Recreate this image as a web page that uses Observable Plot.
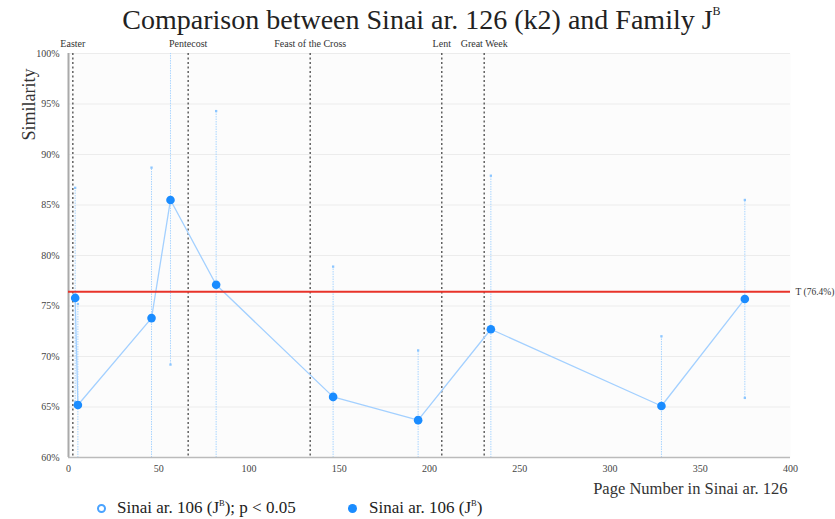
<!DOCTYPE html>
<html>
<head>
<meta charset="utf-8">
<script src="https://cdn.jsdelivr.net/npm/d3@7"></script>
<script src="https://cdn.jsdelivr.net/npm/@observablehq/plot@0.6"></script>
<style>
  html, body { margin: 0; padding: 0; background: white; }
  body { width: 835px; height: 519px; overflow: hidden; font-family: "Liberation Serif", serif; color: #222; }
  #title { height: 40px; line-height: 40px; font-size: 28px; text-align: center; white-space: nowrap; padding-left: 8px; }
  #title sup { font-size: 12px; vertical-align: 0; position: relative; top: -14px; }
  #legend { position: relative; height: 19px; font-size: 17px; }
  #legend .item { position: absolute; top: 0; line-height: 16px; white-space: nowrap; }
  #legend sup { font-size: 8.5px; vertical-align: 0; position: relative; top: -7px; }
  #legend .sym { display: inline-block; width: 9px; height: 9px; border-radius: 50%; box-sizing: border-box; position: absolute; top: 4px; }
</style>
</head>
<body>
<div id="title">Comparison between Sinai ar. 126 (k2) and Family J<sup>B</sup></div>
<div id="chart"></div>
<div id="legend">
  <div class="item" style="left:97px"><span class="sym" style="border:2px solid #4aa3ff;background:white"></span><span style="margin-left:20px">Sinai ar. 106 (J<sup>B</sup>); p &lt; 0.05</span></div>
  <div class="item" style="left:348px"><span class="sym" style="background:#1a8cff"></span><span style="margin-left:21px">Sinai ar. 106 (J<sup>B</sup>)</span></div>
</div>
<script>
// ---- data ----
const pages      = [3.7, 5.2, 46, 56.5, 81.8, 146.6, 193.7, 234, 328.5, 374.7];
const similarity = [75.8, 65.2, 73.8, 85.5, 77.1, 66.0, 63.7, 72.7, 65.1, 75.7];
const upperBound = [86.7, 75.2, 88.7, 101, 94.3, 78.9, 70.6, 87.9, 72.0, 85.5];
const lowerBound = [65.5, 55, 55, 69.2, 55, 55, 55, 55, 55, 65.9];

const eventNames = ["Easter", "Pentecost", "Feast of the Cross", "Lent", "Great Week"];
const eventPages = [2.4, 66.3, 133.9, 206.8, 230.3];

const threshold = 76.4;
const xTicks = [0, 50, 100, 150, 200, 250, 300, 350, 400];
const yTicks = [60, 65, 70, 75, 80, 85, 90, 95, 100];

const points = pages.map((p, i) => ({page: p, sim: similarity[i], hi: upperBound[i], lo: lowerBound[i]}));
const events = eventNames.map((n, i) => ({name: n, page: eventPages[i]}));

const barColor = "#a9d5ff";

const chart = Plot.plot({
  width: 835,
  height: 460,
  marginTop: 13,
  marginBottom: 43,
  marginLeft: 68,
  marginRight: 45,
  style: {fontFamily: "'Liberation Serif', serif", fontSize: "10px", color: "#444", background: "white", overflow: "visible"},
  x: {domain: [0, 400]},
  y: {domain: [60, 100]},
  marks: [
    Plot.frame({fill: "#fcfcfc", stroke: null}),
    Plot.gridY(yTicks, {stroke: "#ececec", strokeOpacity: 1}),
    Plot.axisY({ticks: yTicks, tickSize: 0, tickPadding: 9, label: null, tickFormat: d => d + "%"}),
    Plot.axisX({ticks: xTicks, tickSize: 0, tickPadding: 7, label: null}),
    // error bars
    Plot.ruleX(points, {x: "page", y1: "lo", y2: "hi", stroke: barColor, strokeWidth: 1, strokeDasharray: "1.5,1", clip: "frame"}),
    Plot.dot(points.filter(d => d.hi <= 100), {x: "page", y: "hi", r: 1.3, symbol: "square", fill: "#8cc6ff"}),
    Plot.dot(points.filter(d => d.lo >= 60), {x: "page", y: "lo", r: 1.3, symbol: "square", fill: "#8cc6ff"}),
    // event lines
    Plot.ruleX(events, {x: "page", stroke: "#555", strokeWidth: 1.4, strokeDasharray: "2,2.5"}),
    Plot.text(events, {x: "page", text: "name", frameAnchor: "top", dy: -7, lineAnchor: "bottom", fontSize: 10, fill: "#333"}),
    // axis lines
    Plot.ruleX([0], {stroke: "#aaa", strokeWidth: 2}),
    Plot.ruleY([60], {stroke: "#bbb", strokeWidth: 1.5}),
    // series
    Plot.line(points, {x: "page", y: "sim", stroke: "#a3d0ff", strokeWidth: 1.3}),
    Plot.ruleY([threshold], {stroke: "#e8332a", strokeWidth: 2}),
    Plot.text([threshold], {x: 400, y: d => d, text: d => `T (${d}%)`, dx: 5, textAnchor: "start", fontSize: 9.5, letterSpacing: "-0.3px", fill: "#333"}),
    Plot.dot(points, {x: "page", y: "sim", r: 4.3, fill: "#1a8cff"}),
    // axis titles
    Plot.text(["Similarity"], {frameAnchor: "top-left", rotate: -90, textAnchor: "end", dx: -46, dy: 15, fontSize: 18, fill: "#333"}),
    Plot.text(["Page Number in Sinai ar. 126"], {frameAnchor: "bottom-right", textAnchor: "end", dx: -3, dy: 36, fontSize: 16.5, fill: "#333"})
  ]
});
document.getElementById("chart").appendChild(chart);
</script>
</body>
</html>
